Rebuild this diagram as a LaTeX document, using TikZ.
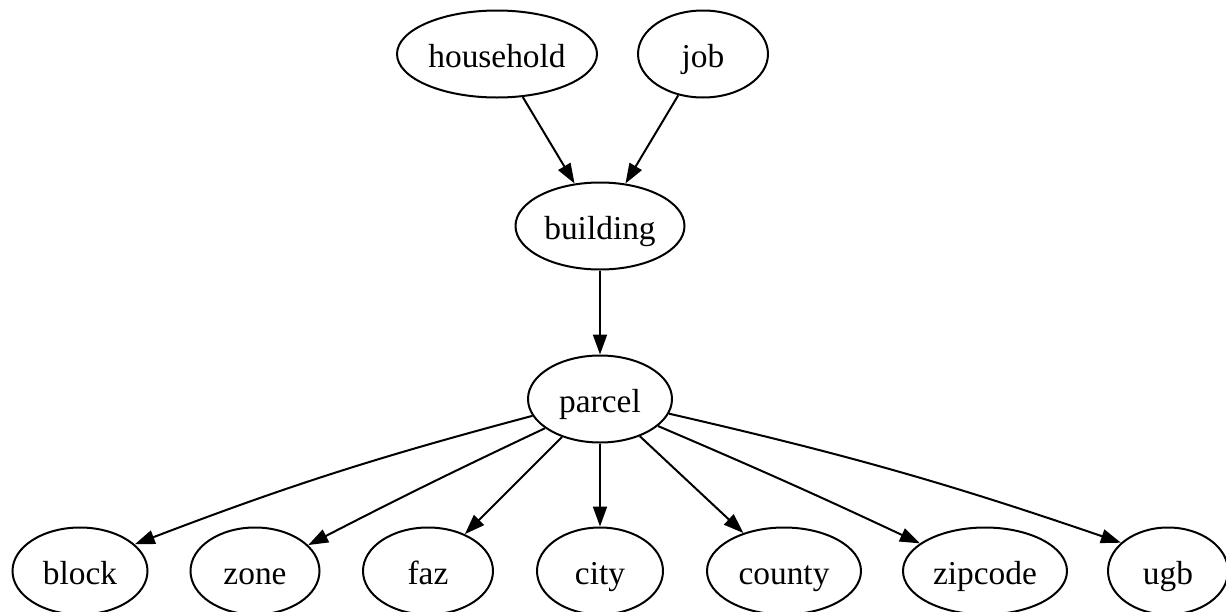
\documentclass[tikz,border=0pt]{standalone}
\usepackage{fontspec}
\setmainfont{Liberation Serif}
\usetikzlibrary{shapes.geometric, arrows.meta}

\tikzset{
  tbl/.style={draw, ellipse, line width=1pt, inner sep=0pt,
    minimum height=43.5pt, text height=15pt, text depth=2pt,
    font=\fontsize{16.7}{20}\selectfont},
  link/.style={line width=1pt, -{Triangle[length=10pt,width=7pt]}}
}

\begin{document}
\begin{tikzpicture}[x=0.5pt, y=-0.5pt]
    \useasboundingbox (0,0) rectangle (1226,611);
    \node[tbl, minimum width=100pt] (household) at (497,54) {household};
    \node[tbl, minimum width=65pt] (job) at (703,54) {job};
    \node[tbl, minimum width=84.5pt] (building) at (600,226) {building};
    \node[tbl, minimum width=72pt] (parcel) at (600,399) {parcel};
    \node[tbl, minimum width=67.5pt] (block) at (80,571) {block};
    \node[tbl, minimum width=64.5pt] (zone) at (255,571) {zone};
    \node[tbl, minimum width=65pt] (faz) at (428,571) {faz};
    \node[tbl, minimum width=63pt] (city) at (600,571) {city};
    \node[tbl, minimum width=77pt] (county) at (784,571) {county};
    \node[tbl, minimum width=82pt] (zipcode) at (985,571) {zipcode};
    \node[tbl, minimum width=60pt] (ugb) at (1168,571) {ugb};
    \draw[link] (household) -- (building);
    \draw[link] (job) -- (building);
    \draw[link] (building) -- (parcel);
    \draw[link] (parcel.194) to[bend right=3] (block.26);
    \draw[link] (parcel.208) to[bend right=1] (zone.26);
    \draw[link] (parcel) -- (faz);
    \draw[link] (parcel) -- (city);
    \draw[link] (parcel) -- (county);
    \draw[link] (parcel.-25) to[bend left=1] (zipcode.157);
    \draw[link] (parcel.-12) to[bend left=3] (ugb.149);
  \end{tikzpicture}
\end{document}
